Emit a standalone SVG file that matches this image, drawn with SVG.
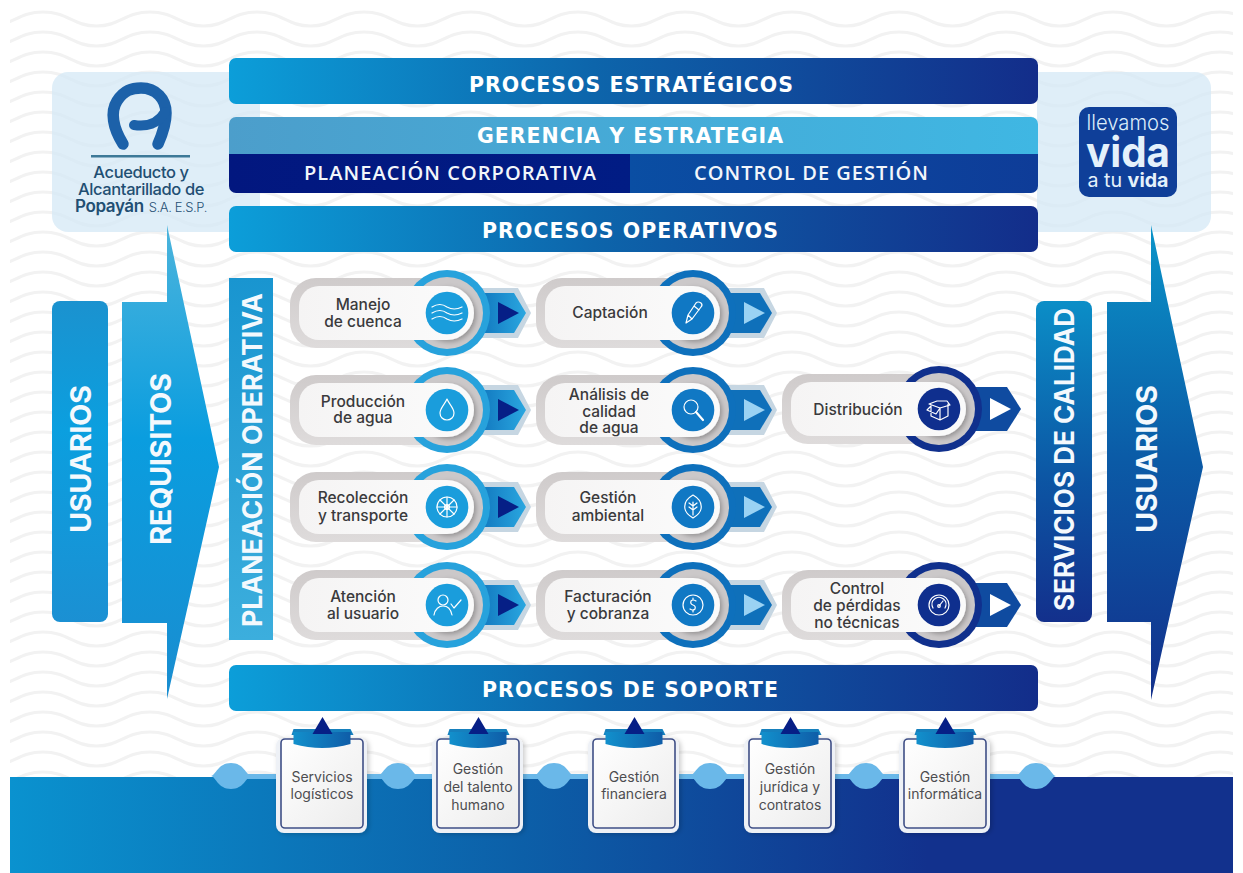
<svg xmlns="http://www.w3.org/2000/svg" xmlns:xlink="http://www.w3.org/1999/xlink" width="1243" height="873" viewBox="0 0 1243 873">
<style>
text{font-family:"Inter","Liberation Sans",sans-serif}
.ban{font-family:"DejaVu Sans","Open Sans",sans-serif;font-weight:700;font-size:20.5px;fill:#fff}
.sub{font-family:"Open Sans","DejaVu Sans",sans-serif;font-weight:600;font-size:20px;fill:#f2f6fb}
.vert{font-family:"Inter","Liberation Sans",sans-serif;font-weight:700;font-size:29px;fill:#f4f9fd}
.pt{font-size:15.5px;font-weight:500;fill:#3a3a3c;text-anchor:middle}
.ct{font-size:14px;font-weight:400;fill:#4d4d50;text-anchor:middle}
.ic{fill:none;stroke:#fff;stroke-width:1.2;stroke-linecap:round;stroke-linejoin:round}
.lg{font-weight:500;font-size:16.5px;fill:#1f4f73;text-anchor:middle;letter-spacing:-.4px}
</style>
<defs>
<pattern id="waves" width="107" height="20" patternUnits="userSpaceOnUse" x="43" y="9">
<path d="M-53.500,17 C-30,17 -25,3 0,3 C25,3 30,17 53.500,17 C77,17 82,3 107,3 C132,3 137,17 160.500,17" fill="none" stroke="#f2f2f2" stroke-width="3.200"/>
</pattern>
<linearGradient id="hb"><stop offset="0" stop-color="#0c9ed9"/><stop offset=".45" stop-color="#0d65ab"/><stop offset="1" stop-color="#132d8a"/></linearGradient>
<linearGradient id="band" x1="0" x2="1"><stop offset="0" stop-color="#0a92cf"/><stop offset=".42" stop-color="#0c5fa8"/><stop offset=".75" stop-color="#12318d"/><stop offset="1" stop-color="#12318d"/></linearGradient>
<linearGradient id="ger"><stop offset="0" stop-color="#4c9ecb"/><stop offset="1" stop-color="#3fb7e3"/></linearGradient>
<linearGradient id="pc"><stop offset="0" stop-color="#02177f"/><stop offset="1" stop-color="#011c84"/></linearGradient>
<linearGradient id="cg"><stop offset="0" stop-color="#0a4ea3"/><stop offset="1" stop-color="#0e3c98"/></linearGradient>
<linearGradient id="vu" x1="0" x2="0" y1="0" y2="1"><stop offset="0" stop-color="#1b92cf"/><stop offset=".4" stop-color="#0b9fdf"/><stop offset="1" stop-color="#1b90d3"/></linearGradient>
<linearGradient id="vr" gradientUnits="userSpaceOnUse" x1="0" x2="0" y1="225" y2="700"><stop offset="0" stop-color="#4cb4dc"/><stop offset=".45" stop-color="#0a9ddf"/><stop offset="1" stop-color="#1a8dd0"/></linearGradient>
<linearGradient id="vp" x1="0" x2="0" y1="0" y2="1"><stop offset="0" stop-color="#1995d0"/><stop offset="1" stop-color="#3caedd"/></linearGradient>
<linearGradient id="vs" x1="0" x2="0" y1="0" y2="1"><stop offset="0" stop-color="#0b8ec7"/><stop offset=".55" stop-color="#0c56a4"/><stop offset="1" stop-color="#13308c"/></linearGradient>
<linearGradient id="va" gradientUnits="userSpaceOnUse" x1="0" x2="0" y1="225" y2="700"><stop offset="0" stop-color="#0a94c9"/><stop offset=".5" stop-color="#0b5aa6"/><stop offset="1" stop-color="#13308c"/></linearGradient>
<linearGradient id="gy" x1="0" x2="0" y1="0" y2="1"><stop offset="0" stop-color="#cfcbcb"/><stop offset="1" stop-color="#dedbdb"/></linearGradient>
<linearGradient id="wh" x1="0" x2="1" y1="0" y2="1"><stop offset="0" stop-color="#fff"/><stop offset="1" stop-color="#ececec"/></linearGradient>
<linearGradient id="wp" x1="0" x2="1" y1="0" y2="0"><stop offset="0" stop-color="#f5f4f4"/><stop offset="1" stop-color="#fafafa"/></linearGradient>
<linearGradient id="t1"><stop offset="0" stop-color="#0d6fb9"/><stop offset="1" stop-color="#2aa7e0"/></linearGradient>
<linearGradient id="clipg"><stop offset="0" stop-color="#1290cc"/><stop offset="1" stop-color="#0f5da8"/></linearGradient>
<filter id="sh" x="-30%" y="-30%" width="160%" height="160%"><feDropShadow dx="2" dy="2" stdDeviation="2.5" flood-color="#000" flood-opacity=".28"/></filter>
<filter id="sh2" x="-20%" y="-20%" width="140%" height="140%"><feDropShadow dx="2" dy="1" stdDeviation="2.5" flood-color="#000" flood-opacity=".2"/></filter>

<g id="pillbase">
<rect x="-157" y="-35" width="185" height="70" rx="26" fill="url(#gy)"/>
</g>
<g id="pilltop">
<circle r="36" fill="#cbc8c9"/>
<circle r="27" fill="#fafafa" filter="url(#sh)"/>
<path d="M-128,-27 H0 V27 H-128 A20,20 0 0 1 -148,7 V-7 A20,20 0 0 1 -128,-27Z" fill="url(#wp)"/>
</g>
<g id="p1">
<path d="M20,-25 H71 L84,0 L71,25 H20Z" fill="#c6d6e2"/>
<path d="M25,-20 H67 L79,0 L67,20 H25Z" fill="url(#t1)"/>
<path d="M51,-11 L72,0 L51,11Z" fill="#061f86"/>
<use xlink:href="#pillbase" href="#pillbase"/>
<circle r="43" fill="#27a2dc"/>
<use xlink:href="#pilltop" href="#pilltop"/>
<circle r="21.3" fill="#1a9ddc"/>
</g>
<g id="p2">
<path d="M20,-25 H71 L84,0 L71,25 H20Z" fill="#c6d6e2"/>
<path d="M25,-20 H67 L79,0 L67,20 H25Z" fill="#0f70ba"/>
<path d="M51,-11 L72,0 L51,11Z" fill="#9ad2f3"/>
<use xlink:href="#pillbase" href="#pillbase"/>
<circle r="43" fill="#0e70bc"/>
<use xlink:href="#pilltop" href="#pilltop"/>
<circle r="21.3" fill="#1078c4"/>
</g>
<g id="p3">
<path d="M20,-22 H68 L82,0 L68,22 H20Z" fill="#0f4ba0"/>
<path d="M51,-11 L72,0 L51,11Z" fill="#fff"/>
<use xlink:href="#pillbase" href="#pillbase"/>
<circle r="43" fill="#10308d"/>
<use xlink:href="#pilltop" href="#pilltop"/>
<circle r="21.3" fill="#0f2f8e"/>
</g>
<g id="clip">
<rect x="-46.500" y="-38" width="91" height="95" rx="8" fill="#eef1f6" filter="url(#sh2)"/>
<rect x="-41.500" y="-37" width="82" height="89" rx="4" fill="url(#wh)" stroke="#3f4f86" stroke-width="1.600"/>
<path d="M-31,-41 L-29,-47 H28 L31,-41Z" fill="#1680bd"/>
<path d="M-29,-44 H28 V-32 Q0,-24 -29,-32Z" fill="url(#clipg)"/>
<path d="M0,-59 L10,-42 H-10Z" fill="#061f86"/>
</g>
<path id="blob" d="M-20,0 C-15,-1 -13,-13 0,-13 C13,-13 15,-1 20,0 C15,1 13,13 0,13 C-13,13 -15,1 -20,0Z" fill="#6ab8e9"/>
</defs>

<rect width="1243" height="873" fill="#fff"/>
<g id="background">
<rect x="10" y="10" width="1223" height="767" fill="url(#waves)"/>
<rect x="52" y="72" width="208" height="160" rx="16" fill="#d3e8f5" fill-opacity=".72"/>
<path d="M1037,72 H1195 a16,16 0 0 1 16,16 V216 a16,16 0 0 1 -16,16 H1037Z" fill="#d3e8f5" fill-opacity=".72"/>
<rect x="10" y="777" width="1223" height="96" fill="url(#band)"/>
</g>

<g id="connectors">
<rect x="231" y="774" width="805" height="5" fill="#6ab8e9"/>
<use xlink:href="#blob" href="#blob" x="231" y="776"/>
<use xlink:href="#blob" href="#blob" x="398" y="776"/>
<use xlink:href="#blob" href="#blob" x="554" y="776"/>
<use xlink:href="#blob" href="#blob" x="710" y="776"/>
<use xlink:href="#blob" href="#blob" x="866" y="776"/>
<use xlink:href="#blob" href="#blob" x="1036" y="776"/>
</g>

<g id="logo">
<path d="M123,144 C113,128 110,112 117,101 C124,90 132,88 141,88 C156,88 166,99 166,113 C166,125 162,135 158,144" fill="none" stroke="#1c61a9" stroke-width="11.500" stroke-linecap="round"/>
<path d="M134,125 C146,127 158,124 165,112" fill="none" stroke="#1c61a9" stroke-width="10" stroke-linecap="round"/>
<rect x="91" y="155" width="99" height="2.500" fill="#3d7998"/>
<text class="lg" x="141" y="178">Acueducto y</text>
<text class="lg" x="141" y="195">Alcantarillado de</text>
<text class="lg" x="141" y="212"><tspan font-weight="600" font-size="17">Popayán</tspan><tspan dx="5" font-weight="300" font-size="13">S.A. E.S.P.</tspan></text>
</g>

<g id="slogan">
<rect x="1079" y="107" width="98" height="90" rx="10" fill="#0f3f99"/>
<text x="1128" y="130" text-anchor="middle" font-size="22" font-weight="300" fill="#dcedf9" textLength="83" lengthAdjust="spacingAndGlyphs">llevamos</text>
<text x="1128" y="167" text-anchor="middle" font-size="42" font-weight="700" fill="#e4f1fb" textLength="84" lengthAdjust="spacingAndGlyphs">vida</text>
<text x="1128" y="187" text-anchor="middle" font-size="19" fill="#e4f1fb" textLength="81" lengthAdjust="spacingAndGlyphs">a tu <tspan font-weight="700">vida</tspan></text>
</g>

<g id="procesos-estrategicos">
<rect x="229" y="58" width="809" height="46" rx="7" fill="url(#hb)"/>
<text class="ban" x="469" y="92" textLength="324">PROCESOS ESTRATÉGICOS</text>
</g>
<g id="gerencia">
<path d="M229,154 V124 a7,7 0 0 1 7,-7 H1031 a7,7 0 0 1 7,7 V154Z" fill="url(#ger)"/>
<text class="ban" x="477" y="143" textLength="306">GERENCIA Y ESTRATEGIA</text>
</g>
<g id="planeacion-corporativa">
<path d="M229,154 V186 a7,7 0 0 0 7,7 H630 V154Z" fill="url(#pc)"/>
<text class="sub" x="304" y="180" textLength="292">PLANEACIÓN CORPORATIVA</text>
</g>
<g id="control-gestion">
<path d="M630,154 V193 H1031 a7,7 0 0 0 7,-7 V154Z" fill="url(#cg)"/>
<text class="sub" x="694" y="180" textLength="234">CONTROL DE GESTIÓN</text>
</g>
<g id="procesos-operativos">
<rect x="229" y="206" width="809" height="46" rx="7" fill="url(#hb)"/>
<text class="ban" x="482" y="238" textLength="296">PROCESOS OPERATIVOS</text>
</g>
<g id="procesos-soporte">
<rect x="229" y="665" width="809" height="46" rx="7" fill="url(#hb)"/>
<text class="ban" x="482" y="697" textLength="296">PROCESOS DE SOPORTE</text>
</g>

<g id="usuarios-in">
<rect x="52" y="301" width="56" height="321" rx="8" fill="url(#vu)"/>
<text class="vert" transform="translate(91,533) rotate(-90)" textLength="148">USUARIOS</text>
</g>
<g id="requisitos">
<path d="M122,302 H167 V225 L219,467 L167,699 V623 H122Z" fill="url(#vr)"/>
<text class="vert" transform="translate(171,545) rotate(-90)" textLength="172">REQUISITOS</text>
</g>
<g id="planeacion-operativa">
<rect x="229" y="278" width="44" height="362" fill="url(#vp)"/>
<text class="vert" transform="translate(262,627) rotate(-90)" textLength="334" style="font-size:27px" lengthAdjust="spacingAndGlyphs">PLANEACIÓN OPERATIVA</text>
</g>
<g id="servicios-calidad">
<rect x="1036" y="301" width="56" height="321" rx="8" fill="url(#vs)"/>
<text class="vert" transform="translate(1074,611) rotate(-90)" textLength="303" style="font-size:27px" lengthAdjust="spacingAndGlyphs">SERVICIOS DE CALIDAD</text>
</g>
<g id="usuarios-out">
<path d="M1107,302 H1151 V225 L1203,467 L1151,700 V622 H1107Z" fill="url(#va)"/>
<text class="vert" transform="translate(1157,533) rotate(-90)" textLength="148">USUARIOS</text>
</g>

<g id="distribucion"><use xlink:href="#p3" href="#p3" x="939" y="409"/>
<text class="pt" x="858" y="415">Distribución</text>
<g class="ic" transform="translate(939,409)"><path d="M-10,-5 L-2,-8 L8,-8 L11,-4 L1,-1Z M-8,-3 V7 L1,11 L9,7 V-5 M1,-1 V11 M-8,-3 L-12,1 L-3,5 L1,-1"/></g></g>
<g id="control-perdidas"><use xlink:href="#p3" href="#p3" x="939" y="605"/>
<text class="pt" x="857" y="594">Control</text><text class="pt" x="857" y="611">de pérdidas</text><text class="pt" x="857" y="628">no técnicas</text>
<g class="ic" transform="translate(939,605)"><circle r="10"/><path d="M-6,3 A7,7 0 1 1 6,3 M0,1 L4,-4"/><circle cx="0" cy="1" r="1.300"/></g></g>

<g id="captacion"><use xlink:href="#p2" href="#p2" x="693" y="313"/>
<text class="pt" x="610" y="318">Captación</text>
<g class="ic" transform="translate(693,313)"><path d="M-7,10 L-5,2 L3,-10 Q5,-12 8,-10 Q10,-8 8,-6 L-1,6Z M-5,2 L-1,6 M1,-7 L6,-3"/></g></g>
<g id="analisis"><use xlink:href="#p2" href="#p2" x="693" y="410"/>
<text class="pt" x="609" y="400">Análisis de</text><text class="pt" x="609" y="416.500">calidad</text><text class="pt" x="609" y="433">de agua</text>
<g class="ic" transform="translate(693,410)"><circle cx="-2" cy="-3" r="7"/><path d="M3,2 L10,10" stroke-width="2.200"/></g></g>
<g id="gestion-ambiental"><use xlink:href="#p2" href="#p2" x="693" y="507"/>
<text class="pt" x="608" y="503">Gestión</text><text class="pt" x="608" y="521">ambiental</text>
<g class="ic" transform="translate(693,507)"><path d="M0,-12 C7,-8 9,-3 8,2 C7,7 3,9 0,11 C-3,9 -7,7 -8,2 C-9,-3 -7,-8 0,-12Z M0,-5 V8 M0,-1 L4,-4 M0,3 L4,0 M0,-1 L-4,-4 M0,3 L-4,0"/></g></g>
<g id="facturacion"><use xlink:href="#p2" href="#p2" x="693" y="605"/>
<text class="pt" x="608" y="602">Facturación</text><text class="pt" x="608" y="619">y cobranza</text>
<g class="ic" transform="translate(693,605)"><circle r="10"/><path d="M3,-4 Q0,-6 -2,-4 Q-3,-1 0,0 Q3,1 2,4 Q0,6 -3,4 M0,-7 V-5 M0,5 V7"/></g></g>

<g id="manejo-cuenca"><use xlink:href="#p1" href="#p1" x="447" y="313"/>
<text class="pt" x="363" y="310">Manejo</text><text class="pt" x="363" y="327">de cuenca</text>
<g class="ic" transform="translate(447,313)"><path d="M-15,-6 Q-7,-11 0,-6 Q7,-2 15,-6 M-15,0 Q-7,-5 0,0 Q7,4 15,0 M-15,6 Q-7,1 0,6 Q7,10 15,6"/></g></g>
<g id="produccion-agua"><use xlink:href="#p1" href="#p1" x="447" y="410"/>
<text class="pt" x="363" y="407">Producción</text><text class="pt" x="363" y="423">de agua</text>
<g class="ic" transform="translate(447,410)"><path d="M0,-11 C2,-6 7,-2 7,3 C7,7 4,10 0,10 C-4,10 -7,7 -7,3 C-7,-2 -2,-6 0,-11Z"/></g></g>
<g id="recoleccion"><use xlink:href="#p1" href="#p1" x="447" y="507"/>
<text class="pt" x="363" y="503">Recolección</text><text class="pt" x="363" y="521">y transporte</text>
<g class="ic" transform="translate(447,507)"><circle r="10"/><circle r="2.500"/><path d="M0,-10 V10 M-10,0 H10 M-7,-7 L7,7 M-7,7 L7,-7"/></g></g>
<g id="atencion"><use xlink:href="#p1" href="#p1" x="447" y="605"/>
<text class="pt" x="363" y="602">Atención</text><text class="pt" x="363" y="619">al usuario</text>
<g class="ic" transform="translate(447,605)"><circle cx="-4" cy="-5" r="5"/><path d="M-13,10 C-12,4 -8,1 -4,1 C1,1 4,5 5,10 M4,-1 L7,3 L14,-5"/></g></g>

<g id="servicios-logisticos"><use xlink:href="#clip" href="#clip" x="322.500" y="776"/><text class="ct" x="322" y="782">Servicios</text><text class="ct" x="322" y="799">logísticos</text></g>
<g id="talento-humano"><use xlink:href="#clip" href="#clip" x="478.500" y="776"/><text class="ct" x="478" y="774">Gestión</text><text class="ct" x="478" y="792">del talento</text><text class="ct" x="478" y="810">humano</text></g>
<g id="financiera"><use xlink:href="#clip" href="#clip" x="634.500" y="776"/><text class="ct" x="634" y="782">Gestión</text><text class="ct" x="634" y="799">financiera</text></g>
<g id="juridica"><use xlink:href="#clip" href="#clip" x="790.500" y="776"/><text class="ct" x="790" y="774">Gestión</text><text class="ct" x="790" y="792">jurídica y</text><text class="ct" x="790" y="810">contratos</text></g>
<g id="informatica"><use xlink:href="#clip" href="#clip" x="945.500" y="776"/><text class="ct" x="945" y="782">Gestión</text><text class="ct" x="945" y="799">informática</text></g>
</svg>
